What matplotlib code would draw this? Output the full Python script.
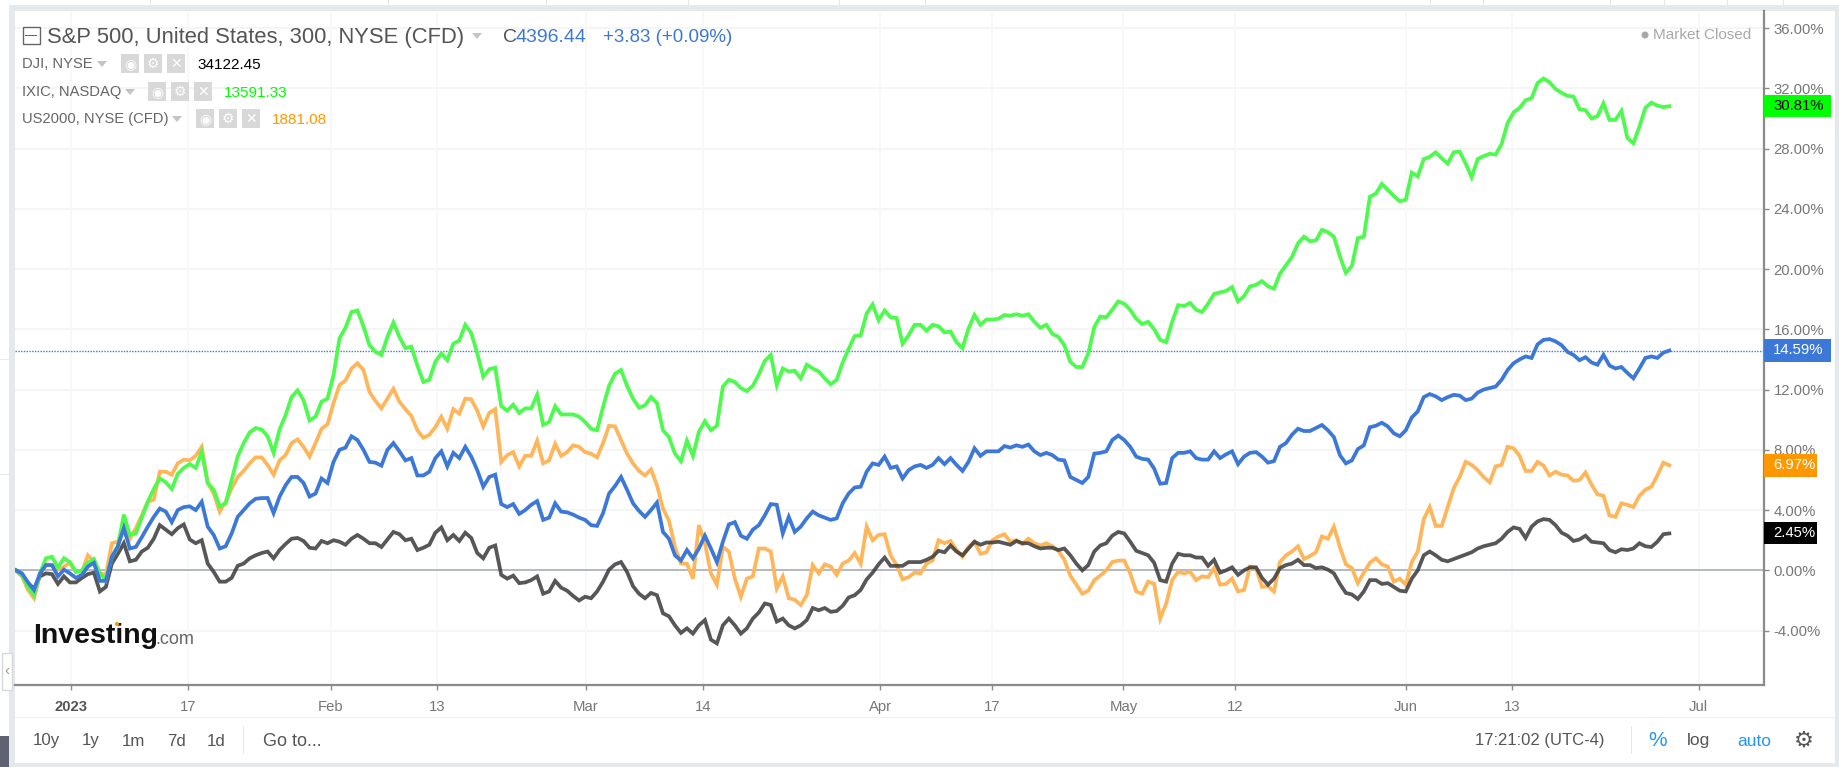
import matplotlib
matplotlib.use("Agg")
import matplotlib.pyplot as plt
from matplotlib.patches import Rectangle, Polygon, Ellipse

plt.rcParams['font.family'] = ['Liberation Sans', 'DejaVu Sans']

W, H = 1839, 767

# percent change per bar
spx = [0, -.2, -.8, -1.3, -.2, .35, .35, -.4, .05, -.2, -.5, -.3, .25, .5, -.7, -.7, .9, 1.6, 2.8, 1.45, 1.55, 2.2, 2.9, 3.55, 4.1, 3.9, 3.2, 4, 4.2, 4.25, 4, 4.55, 2.9, 2.35, 1.45, 1.6, 2.45, 3.55, 4, 4.45, 4.75, 4.8, 4.8, 3.8, 4.9,
       5.65, 6.2, 6.2, 5.8, 4.9, 5.1, 6.1, 5.8, 7.2, 8, 8.15, 8.9, 8.65, 8, 7.2, 7.15, 6.95, 8, 8.45, 7.9, 7.3, 7.45, 6.3, 6.3, 6.55, 7.45, 7.9, 6.9, 7.8, 7.45, 8.2, 7.55, 6.65, 5.55, 6.2, 6.35, 4.4, 4.2, 4.4, 3.75, 4, 4.35, 4.6,
       3.35, 3.5, 4.45, 3.9, 3.85, 3.7, 3.5, 3.35, 3, 2.95, 3.8, 5.1, 5.6, 6.2, 5.35, 4.45, 3.95, 3.55, 4, 4.5, 2.55, 2.1, 1, .65, 1.35, .8, 1.45, 2.3, 1.45, .55, 1.9, 3.05, 3.2, 2.3, 2.1, 2.7, 3, 3.65, 4.4, 4.35, 2.45, 3.55, 2.55, 2.9,
       3.45, 3.9, 3.65, 3.5, 3.35, 3.45, 4.45, 5.1, 5.5, 5.55, 6.55, 7.1, 7, 7.55, 6.8, 6.9, 6.1, 6.65, 6.9, 7, 6.8, 7, 7.45, 7.05, 7.45, 7, 6.6, 7.2, 8.1, 7.6, 7.9, 7.9, 7.9, 8.25, 8.15, 8.3, 8.2, 8.35, 7.9, 7.65, 7.8, 7.65, 7.35,
       7.3, 6.2, 6, 5.8, 6.2, 7.75, 7.8, 7.9, 8.65, 8.95, 8.65, 8.2, 7.55, 7.4, 7.35, 6.75, 5.75, 5.8, 7.45, 7.8, 7.8, 7.9, 7.45, 7.35, 7.35, 7.9, 7.45, 7.7, 7.9, 7.05, 7.55, 7.8, 7.85, 7.55, 7.15, 7.25, 8.2, 8.45, 9, 9.4, 9.25, 9.25, 9.45,
       9.65, 9.3, 8.85, 7.65, 7.1, 7.3, 8.05, 8.3, 9.5, 9.6, 9.8, 9.55, 9.1, 8.9, 9.3, 10.15, 10.55, 11.5, 11.7, 11.55, 11.3, 11.5, 11.65, 11.6, 11.3, 11.4, 11.8, 12, 12.1, 12.2, 12.65,
       13.3, 13.75, 14, 14.2, 14.1, 15, 15.3, 15.35, 15.2, 14.95, 14.5, 14.3, 13.95, 14.15, 13.8, 13.65, 14.3, 13.6, 13.4, 13.5, 13.1, 12.75, 13.4, 14.1, 14.2, 14.1, 14.45, 14.59]

dji = [0, -.3, -.85, -1.2, -.4, -.2, -.25, -.9, -.4, -.8, -.8, -.5, -.25, -.15, -1.4, -1.1, .45, 1.1, 1.8, .6, .7, 1.25, 1.5, 2.1, 3, 2.7, 2.4, 2.8, 3.05, 2.05, 1.8, 2, .45, -.1, -.75, -.75, -.5, .3, .45, .8, 1, 1.15, 1.25, .8, 1.35,
       1.75, 2.1, 2.15, 1.95, 1.5, 1.45, 1.95, 1.8, 2, 1.9, 1.7, 2.1, 2.35, 2.1, 1.8, 1.8, 1.55, 2.05, 2.55, 2.4, 2, 2.1, 1.35, 1.5, 1.7, 2.5, 2.85, 2, 2.35, 1.95, 2.5, 2.15, 1.15, .8, 1.5, 1.65, -.3, -.55, -.35, -.85, -.8, -.65, -.4,
       -1.55, -1.4, -.7, -1.15, -1.35, -1.7, -2, -1.75, -1.85, -1.4, -.75, .05, .4, .55, -.1, -1.05, -1.55, -1.85, -1.5, -1.65, -2.85, -3.05, -3.65, -4.15, -3.85, -4.2, -3.65, -3.3, -4.6, -4.85, -3.65, -3.2, -3.65, -4.2, -3.85, -3.2, -2.8, -2.2, -2.3, -3.4, -3.2, -3.65, -3.85, -3.65,
       -3.3, -2.5, -2.65, -2.5, -2.75, -2.7, -2.35, -1.8, -1.65, -1.3, -.6, -.15, .4, .85, .3, .3, .3, .55, .55, .55, .7, .9, 1.3, 1.2, 1.65, 1.25, 1, 1.45, 1.9, 1.7, 1.85, 1.85, 1.9, 1.8, 1.7, 1.95, 1.8, 1.8, 1.6, 1.45, 1.5, 1.5, 1.35,
       1.45, 1, .45, 0, .35, 1.25, 1.65, 1.8, 2.3, 2.55, 2.45, 1.9, 1.3, 1.15, 1, .5, -.65, -.75, .45, 1.1, 1, 1, .85, .85, .3, .7, -.15, 0, .2, -.3, 0, .2, .2, -.5, -.95, -.55, .15, .35, .45, .7, .35, .35, .15,
       .2, .05, -.2, -.9, -1.5, -1.6, -1.9, -1.4, -.65, -.65, -.9, -.85, -1.1, -1.35, -1.4, -.55, 0, 1, 1.25, 1, .7, .6, .75, .9, 1.05, 1.2, 1.45, 1.6, 1.7, 1.8, 2.1,
       2.55, 2.85, 2.75, 2.15, 2.9, 3.25, 3.4, 3.35, 3, 2.5, 2.3, 1.95, 2.05, 2.3, 1.9, 1.85, 1.8, 1.35, 1.2, 1.4, 1.35, 1.45, 1.8, 1.6, 1.55, 1.9, 2.4, 2.45]

ixic = [0, -.3, -1.1, -1.65, -.2, .8, .9, .2, .8, .55, -.1, 0, .5, .75, -.2, -.65, .9, 1.55, 3.7, 2.35, 2.45, 3.5, 4.55, 5.4, 6.1, 5.85, 5.4, 6.4, 6.8, 7.05, 6.8, 7.85, 5.8, 5.35, 4.25, 4.45, 6, 7.55, 8.45, 9.15, 9.45, 9.35, 8.9, 7.8, 9.35,
        10.3, 11.5, 11.95, 11.3, 9.95, 10.2, 11.2, 11.4, 12.95, 15.4, 16.1, 17.15, 17.25, 16.2, 14.95, 14.5, 14.3, 15.5, 16.45, 15.5, 14.75, 14.85, 13.6, 12.5, 12.65, 13.85, 14.4, 13.95, 15.05, 15.25, 16.3, 15.75, 14.4, 12.85, 13.35, 13.45, 10.9, 10.6, 11, 10.45, 10.75, 10.75, 11.65,
        9.65, 9.85, 10.9, 10.35, 10.35, 10.35, 10.2, 9.85, 9.4, 9.3, 10.85, 12.25, 13.05, 13.3, 12.25, 11.4, 10.8, 10.95, 11.5, 11.1, 9.3, 8.85, 7.75, 7.25, 8.6, 7.6, 9.2, 9.9, 9.3, 9.6, 12.2, 12.65, 12.5, 12.1, 11.9, 12.25, 13, 13.9, 14.3, 12.3, 13.4, 13.2, 13.25, 12.75,
        13.65, 13.4, 13.2, 12.75, 12.35, 12.65, 13.8, 14.7, 15.55, 15.6, 17.05, 17.65, 16.6, 17.25, 16.8, 16.75, 15.05, 15.6, 16.3, 16.3, 15.9, 16.3, 16.2, 15.8, 15.85, 15.15, 14.75, 16.05, 16.95, 16.3, 16.65, 16.65, 16.7, 16.95, 16.9, 17, 16.9, 17, 16.5, 16.1, 16.3, 15.7, 15.5,
        14.95, 13.85, 13.5, 13.5, 14.4, 16.15, 16.85, 16.8, 17.3, 17.85, 17.7, 17.3, 16.7, 16.35, 16.5, 16, 15.3, 15.15, 16.5, 17.6, 17.55, 17.75, 17.3, 17.15, 17.7, 18.35, 18.45, 18.55, 18.8, 17.85, 18.2, 18.85, 18.95, 19.2, 18.85, 18.7,
        19.7, 20.25, 20.8, 21.7, 22.15, 21.85, 21.9,
        22.6, 22.45, 22.15, 20.85, 19.75, 20.2, 22.05, 22.15, 24.8, 25, 25.65, 25.25, 24.85, 24.5, 24.6, 26.4, 26.15, 27.3, 27.45, 27.75, 27.35, 27, 27.75, 27.8, 27, 26.1, 27.3, 27.5, 27.65, 27.6, 28.3, 29.7, 30.4, 30.7, 31.2, 31.35, 32.35, 32.65, 32.4, 31.95, 31.7, 31.5, 31.45, 30.6, 30.55, 30, 30.15, 31, 29.9, 29.9, 30.5, 28.7, 28.35, 29.45, 30.7, 31.05, 30.85, 30.75, 30.81]

us2000 = [0, -.4, -1.3, -1.85, -.3, .4, .35, .05, .25, .5, -.1, -.1, 1, .6, -.2, -.3, 1.8, 1.9, 3, 2.1, 2.8, 3.65, 4.55, 4.7, 6.55, 6.55, 6.35, 7.1, 7.35, 7.3, 7.6, 8.2, 5.8, 5.1, 3.9, 4.55, 5.45, 6.2, 6.6, 7.1, 7.5, 7.5, 7, 6.35, 7.3,
          7.65, 8.45, 8.7, 8.2, 7.55, 8.45, 9.4, 9.7, 11.1, 12.3, 12.6, 13.4, 13.75, 13.3, 11.85, 11.25, 10.75, 11.4, 12.05, 11.2, 10.7, 10.25, 9.3, 8.8, 9, 9.5, 10.2, 9.4, 10.7, 10.4, 11.4, 11.35, 10.6, 9.55, 10.45, 10.7, 7.2, 7.65, 7.85, 6.9, 7.6, 7.6, 8.6,
          7.1, 7.3, 8.4, 7.6, 7.85, 8.3, 8.2, 7.85, 7.75, 7.5, 8.45, 9.6, 9.55, 8.65, 7.75, 7.1, 6.6, 6.3, 6.7, 5.65, 4.1, 3.3, 1.55, .45, .45, -.55, 3, 1.8, -.2, -.95, 1.55, 1.25, -.55, -1.75, -.55, -.4, 1.45, 1.45, 1.25, -1.2, -.4, -1.85, -1.95, -2.3,
          -1.65, .35, -.2, .4, .25, -.3, .45, .65, 1.15, .45, 2.9, 2, 2.35, 2.4, 1, .35, -.6, -.45, -.15, -.2, .45, .65, 2, 1.8, 1.95, 1.35, .9, 1.55, 1.9, 1.1, 1.2, 2, 2.25, 2.4, 1.9, 2, 1.75, 2.1, 1.8, 1.65, 1.8, 1.6, 1.3,
          .7, -.35, -.95, -1.55, -1.35, -.65, -.35, 0, .55, .65, .65, -.2, -1.4, -1.55, -.75, -.9, -3.2, -2.2, -.65, -.1, -.2, -.1, -.65, -.4, -.45, .15, -.95, -.9, -.55, -1.4, -1.3, .25, .15, -1.1, -1.05, -1.4, .55, 1, 1.25, 1.6, .75, .95, 1.2,
          2.25, 2.1, 2.9, 1.55, .4, .15, -.85, -.15, .5, .8, .4, .25, -.75, -.55, -.95, .55, 1.25, 3.4, 4.2, 2.95, 2.95, 4.2, 5.45, 6.2, 7.2, 7, 6.65, 6.2, 5.85, 6.9, 7,
          8.2, 8.1, 7.6, 6.6, 6.6, 7.2, 6.95, 6.3, 6.55, 6.35, 6.3, 5.95, 6, 6.5, 5.7, 5.05, 4.95, 3.65, 3.55, 4.45, 4.35, 4.2, 4.95, 5.35, 5.55, 6.3, 7.15, 6.97]

for s in (spx, dji, ixic, us2000):
    assert len(s) == 277, len(s)

tick_bars = [9.18, 28.76, 52.54, 70.23, 95.11, 114.74, 144.24, 162.94, 184.86, 203.55, 232, 249.8, 280.87]
tick_labels = ['2023', '17', 'Feb', '13', 'Mar', '14', 'Apr', '17', 'May', '12', 'Jun', '13', 'Jul']
y_ticks = [-4, 0, 4, 8, 12, 16, 20, 24, 28, 32, 36]

C_BLUE = '#3c78d8'
C_GREEN = '#4dfa4d'
C_ORANGE = '#ffb65a'
AXIS = '#8a8a8a'


def rect(x0, y0, x1, y1, color, z=-5):
    fig.add_artist(Rectangle((x0 / W, 1 - y1 / H), (x1 - x0) / W, (y1 - y0) / H, color=color, lw=0,
                             transform=fig.transFigure, zorder=z))


def txt(x, y, s, size=11, color='#666666', ha='left', z=8, **kw):
    fig.text(x / W, 1 - y / H, s, fontsize=size, color=color, ha=ha, va='center', zorder=z, **kw)


def tri(x, y, color='#c4c4c4'):
    pts = [((x - 5) / W, 1 - (y - 3) / H), ((x + 5) / W, 1 - (y - 3) / H), (x / W, 1 - (y + 3) / H)]
    fig.add_artist(Polygon(pts, closed=True, color=color, lw=0, transform=fig.transFigure, zorder=8))


def dot(x, y, r, color, z=8):
    fig.add_artist(Ellipse((x / W, 1 - y / H), 2 * r / W, 2 * r / H, color=color, lw=0,
                           transform=fig.transFigure, zorder=z))


fig = plt.figure(figsize=(W / 100, H / 100), dpi=100, facecolor='#e6e9ec')

# page behind the chart
rect(0, 0, 9, H, 'white')
rect(0, 359, 9, 360, '#e6e9ec')
rect(0, 474, 9, 475, '#e6e9ec')
rect(0, 736, 9, H, '#5f6270')
rect(0, 0, W, 5, 'white')
for x in [150, 388, 546, 688, 839, 925, 1430, 1483, 1610, 1664, 1727, 1783]:
    rect(x, 0, x + 1, 5, '#e6e9ec')
rect(15, 11, 1835, 763, 'white')
rect(15, 717, 1835, 718, '#eceef0')

ax = fig.add_axes([15 / W, 1 - 685 / H, 1749 / W, 674 / H])
ax.patch.set_alpha(0)
ax.set_xlim(-0.17, 291.8)
ax.set_ylim(-7.61, 37.13)

for v in y_ticks:
    ax.axhline(v, color='#f4f4f4', lw=1.3, zorder=1)
for b in tick_bars:
    ax.axvline(b, color='#f7f7f7', lw=1.2, zorder=1)
ax.axhline(0, color='#a9adb8', lw=1.2, zorder=2)
ax.axhline(14.59, color=C_BLUE, lw=1, ls=(0, (1, 1)), zorder=2)

x = range(277)
ax.plot(x, us2000, color=C_ORANGE, lw=2.7, zorder=3, solid_joinstyle='miter')
ax.plot(x, dji, color='#3a3a3a', alpha=0.85, lw=2.7, zorder=4, solid_joinstyle='miter')
ax.plot(x, ixic, color=C_GREEN, lw=2.7, zorder=5, solid_joinstyle='miter')
ax.plot(x, spx, color=C_BLUE, lw=2.7, zorder=6, solid_joinstyle='miter')

ax.yaxis.tick_right()
ax.set_yticks(y_ticks)
ax.set_yticklabels([f'{v:.2f}%' for v in y_ticks], fontsize=10.7, color='#777777')
ax.set_xticks(tick_bars)
ax.set_xticklabels(tick_labels, fontsize=10.7, color='#777777')
ax.get_xticklabels()[0].set_fontweight('bold')
ax.get_xticklabels()[0].set_color('#555555')
ax.tick_params(axis='y', length=3.5, width=1, color=AXIS, pad=3.5)
ax.tick_params(axis='x', length=3.5, width=1, color=AXIS, pad=7)
for side in ('top', 'left'):
    ax.spines[side].set_visible(False)
for side in ('right', 'bottom'):
    ax.spines[side].set_color(AXIS)
    ax.spines[side].set_linewidth(1.6)

# legend block top left
fig.add_artist(Rectangle((22.5 / W, 1 - 43.5 / H), 17 / W, 16.5 / H, fc='white', ec='#666666', lw=1,
                         transform=fig.transFigure, zorder=8))
rect(25, 35, 37, 36, '#666666', z=9)
txt(47, 38, 'S&P 500, United States, 300, NYSE (CFD)', size=15.8, color='#555555')
tri(477, 36)
txt(503, 37, 'C', size=14, color='#555555')
txt(516, 37, '4396.44', size=14, color=C_BLUE)
txt(603, 37, '+3.83 (+0.09%)', size=13.5, color=C_BLUE)

legend_rows = [('DJI, NYSE', 64, 102, 121, '34122.45', 197, '#000000'),
               ('IXIC, NASDAQ', 92, 130, 148, '13591.33', 224, '#00ff00'),
               ('US2000, NYSE (CFD)', 119, 177, 196, '1881.08', 272, '#ff9800')]
for name, yy, tx, bx, val, vx, col in legend_rows:
    txt(22, yy, name, size=10.6)
    tri(tx, yy)
    for k, g in enumerate(['◉', '⚙', '✕']):
        rect(bx + k * 23, yy - 10, bx + k * 23 + 18, yy + 9, '#d8d8d8', z=7)
        txt(bx + k * 23 + 9, yy, g, size=10, color='white', ha='center', family='DejaVu Sans')
    txt(vx, yy + 1, val, size=11, color=col)

dot(1645, 35, 3.5, '#a8a8a8')
txt(1653, 35, 'Market Closed', size=11, color='#a8a8a8')

# last value tags
tags = [('30.81%', 95, 117, 1831, '#00ff00', '#000000'),
        ('14.59%', 339, 362, 1831, C_BLUE, '#ffffff'),
        ('6.97%', 454, 477, 1817, '#ff9800', '#ffffff'),
        ('2.45%', 522, 544, 1817, '#000000', '#ffffff')]
for label, y0, y1, x1, bg, fg in tags:
    rect(1764, y0, x1, y1, bg, z=7)
    txt(1773, (y0 + y1) / 2, label, size=10.7, color=fg)

# watermark
txt(33, 636, 'Investing', size=20.5, color='#111111', fontweight='bold')
txt(155, 640, '.com', size=13, color='#666666')
dot(117, 624, 2, '#ff9800', z=9)

# collapse button
fig.add_artist(Rectangle((2 / W, 1 - 690 / H), 10 / W, 37 / H, fc='white', ec='#d5d8dc', lw=1,
                         transform=fig.transFigure, zorder=8))
txt(7, 671, '‹', size=11, color='#999999', ha='center', z=9)

# bottom toolbar
for s, xc in [('10y', 46), ('1y', 91), ('1m', 133), ('7d', 176), ('1d', 216)]:
    txt(xc, 741, s, size=12.2, color='#555555', ha='center')
rect(243, 726, 244, 754, '#e6e9ec')
txt(263, 741, 'Go to...', size=13, color='#555555')
txt(1475, 741, '17:21:02 (UTC-4)', size=12, color='#555555')
rect(1631, 726, 1632, 754, '#e6e9ec')
txt(1658, 741, '%', size=15, color='#2196f3', ha='center')
txt(1699, 741, 'log', size=12.5, color='#555555', ha='center')
txt(1754, 741, 'auto', size=12.5, color='#2196f3', ha='center')
txt(1804, 741, '⚙', size=16, color='#555555', ha='center', family='DejaVu Sans')

fig.savefig('out.png', dpi=100, facecolor=fig.get_facecolor())
